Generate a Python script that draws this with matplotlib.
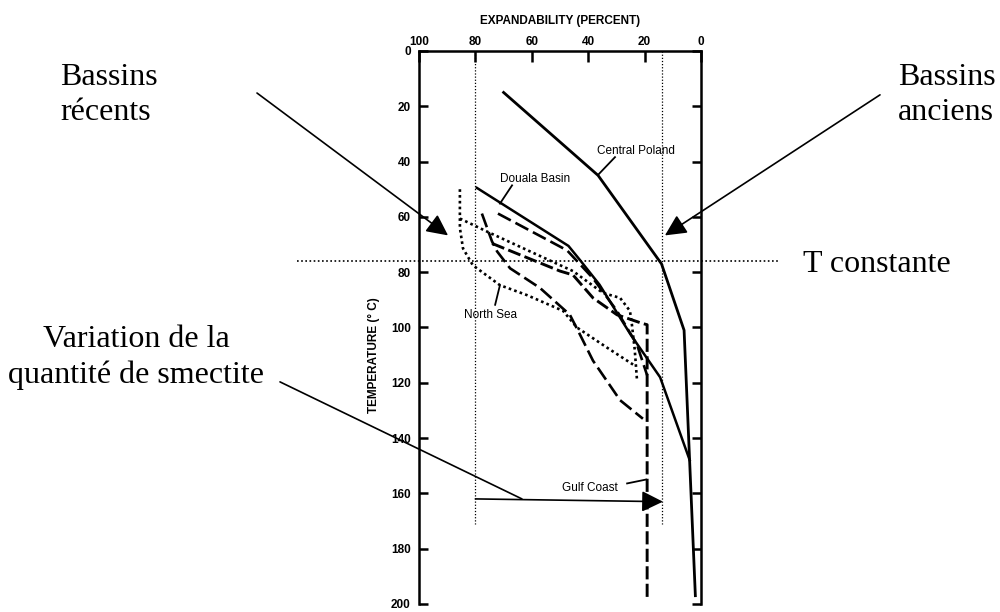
import matplotlib
matplotlib.use("Agg")
import matplotlib.pyplot as plt
from matplotlib.transforms import blended_transform_factory

# expandability (percent) vs temperature (deg C)
central_poland_x = [70, 36.5, 14, 6, 4, 2]
central_poland_t = [15, 45, 77, 101, 149, 197]

douala_x = [79.5, 47, 43, 36, 25, 14.5, 4]
douala_t = [49.5, 70.5, 75.5, 84.5, 102.5, 118, 148]

upper_dash_x = [72, 47.5, 38.3, 29.8, 22.7, 19.1]
upper_dash_t = [58.8, 72.1, 82.2, 94, 106.2, 117.3]

lower_dash_x = [77.7, 74.1, 72.3, 67.7, 57.1, 46.5, 42.9, 38.3, 28.7, 20.6]
lower_dash_t = [58.8, 68.9, 72.5, 78.6, 85.7, 95.4, 102.6, 112, 126.3, 133]

gulf_x = [74.1, 50, 45.4, 38.3, 29.8, 20.9, 19.1, 19.1]
gulf_t = [69.6, 79.6, 81, 89.3, 95.4, 98.5, 99, 197.5]

upper_dot_x = [85.5, 75.9, 60.6, 45.4, 34.8, 28.7, 25.2, 24.5, 23.5, 22.7]
upper_dot_t = [60.6, 65.3, 72.5, 79.6, 87.5, 89.3, 94, 99, 108, 119]

north_sea_x = [85.5, 85.5, 84.4, 80.9, 71.3, 61.7, 48.9, 44, 33.3, 24.1]
north_sea_t = [50, 64, 71.4, 77.5, 84.7, 88.3, 94, 100, 107.3, 113.4]

ref_x = [80, 14]
ref_t_max = 171
t_constant = 76

x_ticks = [100, 80, 60, 40, 20, 0]
y_ticks = [0, 20, 40, 60, 80, 100, 120, 140, 160, 180, 200]

fig = plt.figure(figsize=(10, 6.12), dpi=100)
ax = fig.add_axes([0.419, 0.0131, 0.282, 0.9036])

ink = "black"
ax.plot(central_poland_x, central_poland_t, color=ink, lw=2.0)
ax.plot(douala_x, douala_t, color=ink, lw=1.8)
ax.plot(upper_dash_x, upper_dash_t, color=ink, lw=1.9, dashes=(5.5, 2))
ax.plot(lower_dash_x, lower_dash_t, color=ink, lw=1.9, dashes=(5.5, 2))
ax.plot(gulf_x, gulf_t, color=ink, lw=2.1, dashes=(4.5, 1.5))
ax.plot(upper_dot_x, upper_dot_t, color=ink, lw=1.9, dashes=(1, 1.2))
ax.plot(north_sea_x, north_sea_t, color=ink, lw=1.9, dashes=(1, 1.2))

# thin dotted reference lines
for xr in ref_x:
    ax.plot([xr, xr], [0, ref_t_max], color=ink, lw=0.9, dashes=(1, 1.5))
trans = blended_transform_factory(fig.transFigure, ax.transData)
ax.plot([0.297, 0.780], [t_constant, t_constant], color=ink, lw=1.2,
        dashes=(1, 1.5), transform=trans, clip_on=False)

# curve labels
lab = dict(fontsize=8.5, family="Liberation Sans", ha="center", va="center")
ax.text(23, 36, "Central Poland", **lab)
ax.text(58.9, 46.3, "Douala Basin", **lab)
ax.text(74.5, 95.4, "North Sea", **lab)
ax.text(39.4, 158.2, "Gulf Coast", **lab)
ax.plot([30.5, 36.5], [38.4, 44.8], color=ink, lw=1.3)
ax.plot([67, 71.3], [48.6, 55.2], color=ink, lw=1.3)
ax.plot([71.3, 73], [84.7, 91.8], color=ink, lw=1.3)
ax.plot([26.2, 19.5], [156.4, 155], color=ink, lw=1.3)

ax.set_xlim(100, 0)
ax.set_ylim(200, 0)
ax.set_xticks(x_ticks)
ax.set_yticks(y_ticks)
ax.xaxis.tick_top()
ax.xaxis.set_label_position("top")
ax.tick_params(axis="x", direction="in", length=8, width=1.8, pad=2.5,
               labelsize=8.5, bottom=False)
ax.tick_params(axis="y", direction="in", length=6.5, width=1.8, pad=6,
               labelsize=8.5, right=True, labelright=False)
for lbl in ax.get_xticklabels() + ax.get_yticklabels():
    lbl.set_fontweight("bold")
    lbl.set_family("Liberation Sans")
for side in ["top", "left", "right"]:
    ax.spines[side].set_linewidth(1.8)
ax.spines["bottom"].set_visible(False)

ax.set_xlabel("EXPANDABILITY (PERCENT)", fontsize=8.5, fontweight="bold",
              family="Liberation Sans", labelpad=8)
ax.set_ylabel("TEMPERATURE (° C)", fontsize=8.5, fontweight="bold",
              family="Liberation Sans")
ax.yaxis.set_label_coords(-0.14, 0.45)

# French annotations
serif = dict(fontsize=23, family="Liberation Serif", va="baseline")
fig.text(0.060, 1 - 85 / 612, "Bassins", **serif)
fig.text(0.060, 1 - 120 / 612, "récents", **serif)
fig.text(0.898, 1 - 85 / 612, "Bassins", **serif)
fig.text(0.898, 1 - 120 / 612, "anciens", **serif)
fig.text(0.803, 1 - 272 / 612, "T constante", **serif)
fig.text(0.136, 1 - 347 / 612, "Variation de la", ha="center", **serif)
fig.text(0.136, 1 - 383 / 612, "quantité de smectite", ha="center", **serif)

head = dict(arrowstyle="-|>,head_length=0.65,head_width=0.32", color=ink,
            lw=1.2, mutation_scale=20, shrinkA=0, shrinkB=0)
ax.annotate("", xy=(89.7, 66.7), xycoords="data",
            xytext=(0.257, 0.848), textcoords="figure fraction",
            arrowprops=head, annotation_clip=False)
ax.annotate("", xy=(12.8, 66.7), xycoords="data",
            xytext=(0.880, 0.845), textcoords="figure fraction",
            arrowprops=head, annotation_clip=False)
ax.annotate("", xy=(63.5, 162), xycoords="data",
            xytext=(0.280, 0.376), textcoords="figure fraction",
            arrowprops=dict(arrowstyle="-", color=ink, lw=1.2,
                            shrinkA=0, shrinkB=0),
            annotation_clip=False)
ax.annotate("", xy=(13.5, 163), xycoords="data",
            xytext=(80, 162), textcoords="data",
            arrowprops=head, annotation_clip=False)

fig.savefig("out.png", dpi=100)
